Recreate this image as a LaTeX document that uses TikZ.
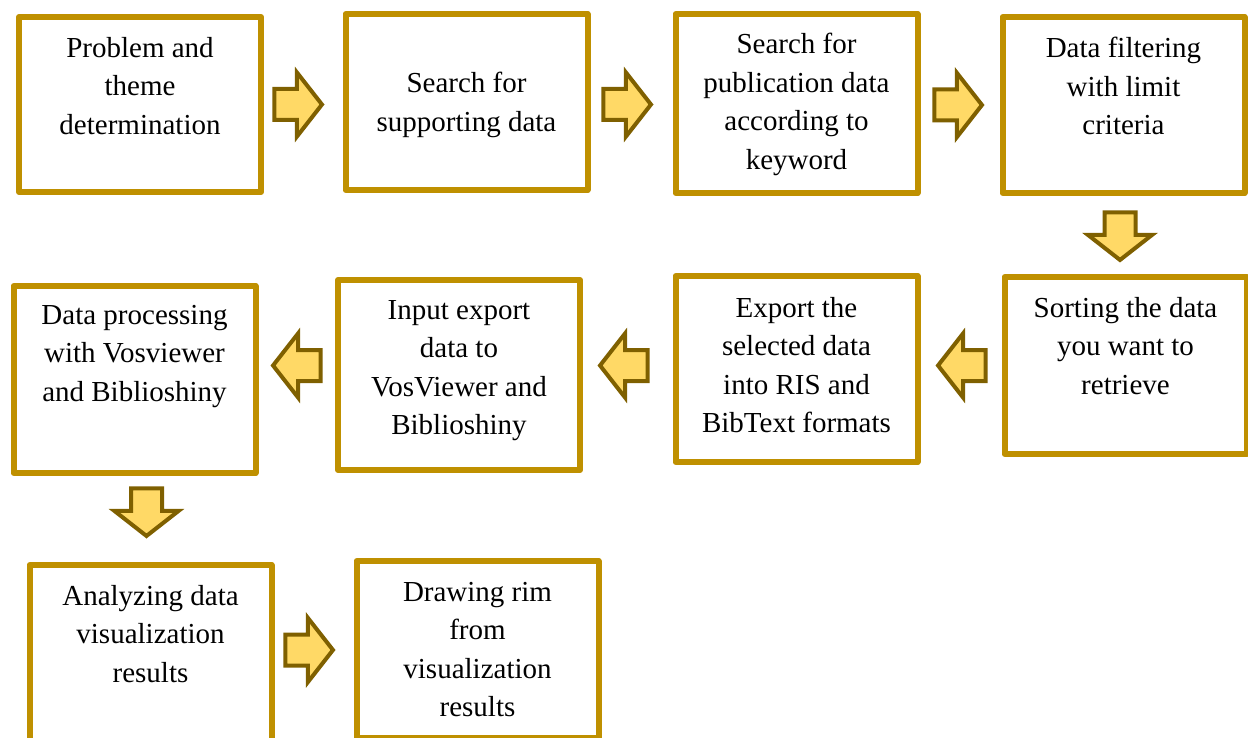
\documentclass[tikz,border=0pt]{standalone}
\usepackage{fontspec}
\setmainfont{Liberation Serif}
\usetikzlibrary{positioning, shapes.arrows}
\definecolor{boxgold}{HTML}{BF9000}
\definecolor{arrowfill}{HTML}{FFD966}
\definecolor{arrowline}{HTML}{7F6000}

\begin{document}
\begin{tikzpicture}
            [x=1pt, y=-1pt,
             stepbox/.style={draw=boxgold, line width=6pt, line join=round, minimum width=242pt},
             steptext/.style={align=center, inner sep=0pt, font=\fontsize{29}{38.5}\selectfont, execute at begin node=\strut},
             blockarrow/.style={single arrow, draw=arrowline, fill=arrowfill, line width=4pt, line join=miter,
                                inner xsep=0pt, inner ysep=13.5pt, minimum height=47.5pt,
                                single arrow head extend=16.5pt, single arrow tip angle=104, anchor=tip}]
            \useasboundingbox (0, 0) rectangle (1248, 738);
            \clip (0, 0) rectangle (1248, 738);

            \node[stepbox, minimum height=175pt] (s1) at (140, 104.5) {};
            \node[stepbox, minimum height=176pt] (s2) at (466.5, 102) {};
            \node[stepbox, minimum height=179pt] (s3) at (796.5, 103.5) {};
            \node[stepbox, minimum height=176pt] (s4) at (1123.5, 105) {};
            \node[stepbox, minimum height=177pt] (s5) at (1125.5, 365.5) {};
            \node[stepbox, minimum height=186pt] (s6) at (796.5, 369) {};
            \node[stepbox, minimum height=190pt] (s7) at (459, 375) {};
            \node[stepbox, minimum height=187pt] (s8) at (134.5, 379.5) {};
            \node[stepbox, minimum height=180pt] (s9) at (150.5, 655) {};
            \node[stepbox, minimum height=177pt] (s10) at (477.5, 649.5) {};

            \node[steptext, below=23pt of s1.north] (s1text) {Problem and\\theme\\determination};
            \node[steptext, below=61pt of s2.north] (s2text) {Search for\\supporting data};
            \node[steptext, below=22pt of s3.north] (s3text) {Search for\\publication data\\according to\\keyword};
            \node[steptext, below=23pt of s4.north] (s4text) {Data filtering\\with limit\\criteria};
            \node[steptext, below=23pt of s5.north] (s5text) {Sorting the data\\you want to\\retrieve};
            \node[steptext, below=24pt of s6.north] (s6text) {Export the\\selected data\\into RIS and\\BibText formats};
            \node[steptext, below=23pt of s7.north] (s7text) {Input export\\data to\\VosViewer and\\Biblioshiny};
            \node[steptext, below=22pt of s8.north] (s8text) {Data processing\\with Vosviewer\\and Biblioshiny};
            \node[steptext, below=23pt of s9.north] (s9text) {Analyzing data\\visualization\\results};
            \node[steptext, below=24pt of s10.north] (s10text) {Drawing rim\\from\\visualization\\results};

            \node[blockarrow] (s1next) at (324.5, 104.5) {};
            \node[blockarrow] (s2next) at (653.5, 104.5) {};
            \node[blockarrow] (s3next) at (984.5, 105) {};
            \node[blockarrow, rotate=-90] (s4next) at (1120, 262.5) {};
            \node[blockarrow, rotate=180] (s5next) at (935.5, 365.5) {};
            \node[blockarrow, rotate=180] (s6next) at (597.5, 365.5) {};
            \node[blockarrow, rotate=180] (s7next) at (270.5, 365.5) {};
            \node[blockarrow, rotate=-90] (s8next) at (146.5, 538.5) {};
            \node[blockarrow] (s9next) at (335.5, 650) {};
        \end{tikzpicture}
\end{document}
